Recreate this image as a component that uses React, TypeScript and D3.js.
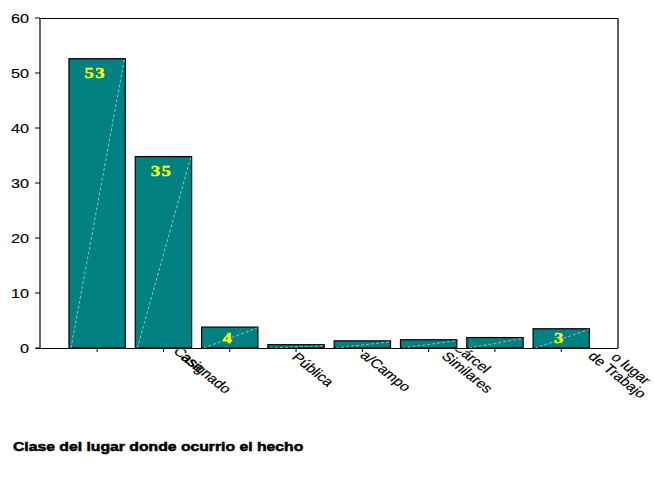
import React from "react";
import * as d3 from "d3";

const categories = [
  "Residencia",
  "Casa",
  "Sin asignado",
  "Vía Pública",
  "Zona Rural/Campo",
  "Cárcel y Similares",
  "Otros",
  "Lugar de Trabajo",
];
const values = [52.6, 34.8, 3.8, 0.6, 1.3, 1.5, 1.9, 3.5];
const valueLabels = ["53", "35", "4", "", "", "", "", "3"];
const tickLabelLines = [
  [],
  ["Casa"],
  ["asignado"],
  ["Pública"],
  ["a/Campo"],
  ["Cárcel", "Similares"],
  [],
  ["o lugar", "de Trabajo"],
];
const yTicks = [0, 10, 20, 30, 40, 50, 60];
const xTitle = "Clase del lugar donde ocurrio el hecho";

// layout (label line start offsets relative to tick / axis), and whether clipped at the axis
const labelOffsets: number[][][] = [
  [],
  [[9, 4]],
  [[-50, 10]],
  [[-5, 10]],
  [[-3, 8]],
  [[23.5, 0], [12, 9]],
  [],
  [[49, 10], [26, 9]],
];
const labelClipped: boolean[][] = [
  [],
  [true],
  [false],
  [false],
  [false],
  [true, false],
  [],
  [false, false],
];

const W = 654;
const H = 480;
const left = 40;
const right = 618;
const top = 18;
const bottom = 348;
const SX = 1.25;
const FONT = "Arial, 'Liberation Sans', sans-serif";

export default function App() {
  const y = d3.scaleLinear().domain([0, 60]).range([bottom, top]);
  const x = d3
    .scaleBand<string>()
    .domain(categories)
    .range([64, 594.4])
    .paddingInner(0.15)
    .paddingOuter(0.075);
  const bw = x.bandwidth();

  return (
    <svg
      width={W}
      height={H}
      style={{ position: "absolute", left: 0, top: 0, background: "#fff" }}
    >
      <defs>
        <clipPath id="below-axis" clipPathUnits="userSpaceOnUse">
          <rect x={0} y={349.5} width={W} height={H - 349.5} />
        </clipPath>
      </defs>
      <rect x={0} y={0} width={W} height={H} fill="#fff" />

      {/* frame */}
      <line x1={left} x2={right} y1={top + 0.5} y2={top + 0.5} stroke="#000" strokeWidth={1} />
      <line x1={right} x2={right} y1={top} y2={bottom} stroke="#3a3a3a" strokeWidth={1.6} />

      {/* bars */}
      {categories.map((c, i) => {
        const x0 = x(c)!;
        const y0 = y(values[i]);
        const hgt = y(0) - y0;
        return (
          <g key={c}>
            <rect
              x={x0}
              y={y0}
              width={bw}
              height={hgt}
              fill="#008080"
              stroke="#000"
              strokeWidth={1.2}
            />
            <line
              x1={x0 + 2}
              y1={y(0)}
              x2={x0 + bw - 1}
              y2={y0 + 1}
              stroke="#a9d6d6"
              strokeWidth={0.8}
              strokeDasharray="3 2"
            />
            {valueLabels[i] && (
              <text
                transform={`translate(${x0 + bw / 2 - 2},${Math.min(y0 + 19, y(0) - 5)}) scale(${SX},1)`}
                textAnchor="middle"
                fontFamily="'Liberation Serif', 'Times New Roman', serif"
                fontWeight="bold"
                fontSize={15}
                letterSpacing={1}
                fill="#ffff00"
                stroke="#ffff00"
                strokeWidth={0.4}
              >
                {valueLabels[i]}
              </text>
            )}
          </g>
        );
      })}

      {/* axes */}
      <line x1={left} x2={left} y1={top} y2={bottom} stroke="#000" strokeWidth={1.2} />
      <line x1={left - 4} x2={right} y1={bottom + 0.5} y2={bottom + 0.5} stroke="#000" strokeWidth={1.2} />
      {yTicks.map((t) => (
        <g key={t}>
          <line x1={left - 5} x2={left} y1={y(t)} y2={y(t)} stroke="#000" strokeWidth={1} />
          <text
            transform={`translate(29,${y(t) + 4.7}) scale(${SX},1)`}
            textAnchor="end"
            fontFamily={FONT}
            fontSize={13}
            fill="#000"
            stroke="#000"
            strokeWidth={0.15}
          >
            {t}
          </text>
        </g>
      ))}
      {categories.map((c) => (
        <line
          key={c}
          x1={x(c)! + bw / 2}
          x2={x(c)! + bw / 2}
          y1={bottom}
          y2={bottom + 4}
          stroke="#000"
          strokeWidth={1}
        />
      ))}

      {/* category labels */}
      {categories.map((c, i) =>
        tickLabelLines[i].map((ln, j) => {
          const [dx, dy] = labelOffsets[i][j];
          const cx = x(c)! + bw / 2;
          return (
            <g
              key={c + j}
              clipPath={labelClipped[i][j] ? "url(#below-axis)" : undefined}
            >
              <text
                transform={`translate(${cx + dx},${bottom + dy}) scale(${SX},1) rotate(45)`}
                fontFamily={FONT}
                fontSize={12.6}
                fill="#000"
                stroke="#000"
                strokeWidth={0.15}
              >
                {ln}
              </text>
            </g>
          );
        })
      )}

      {/* x title */}
      <text
        transform={`translate(13,451) scale(${SX},1)`}
        fontFamily={FONT}
        fontWeight="bold"
        fontSize={12.6}
        fill="#000"
        stroke="#000"
        strokeWidth={0.5}
      >
        {xTitle}
      </text>
    </svg>
  );
}
